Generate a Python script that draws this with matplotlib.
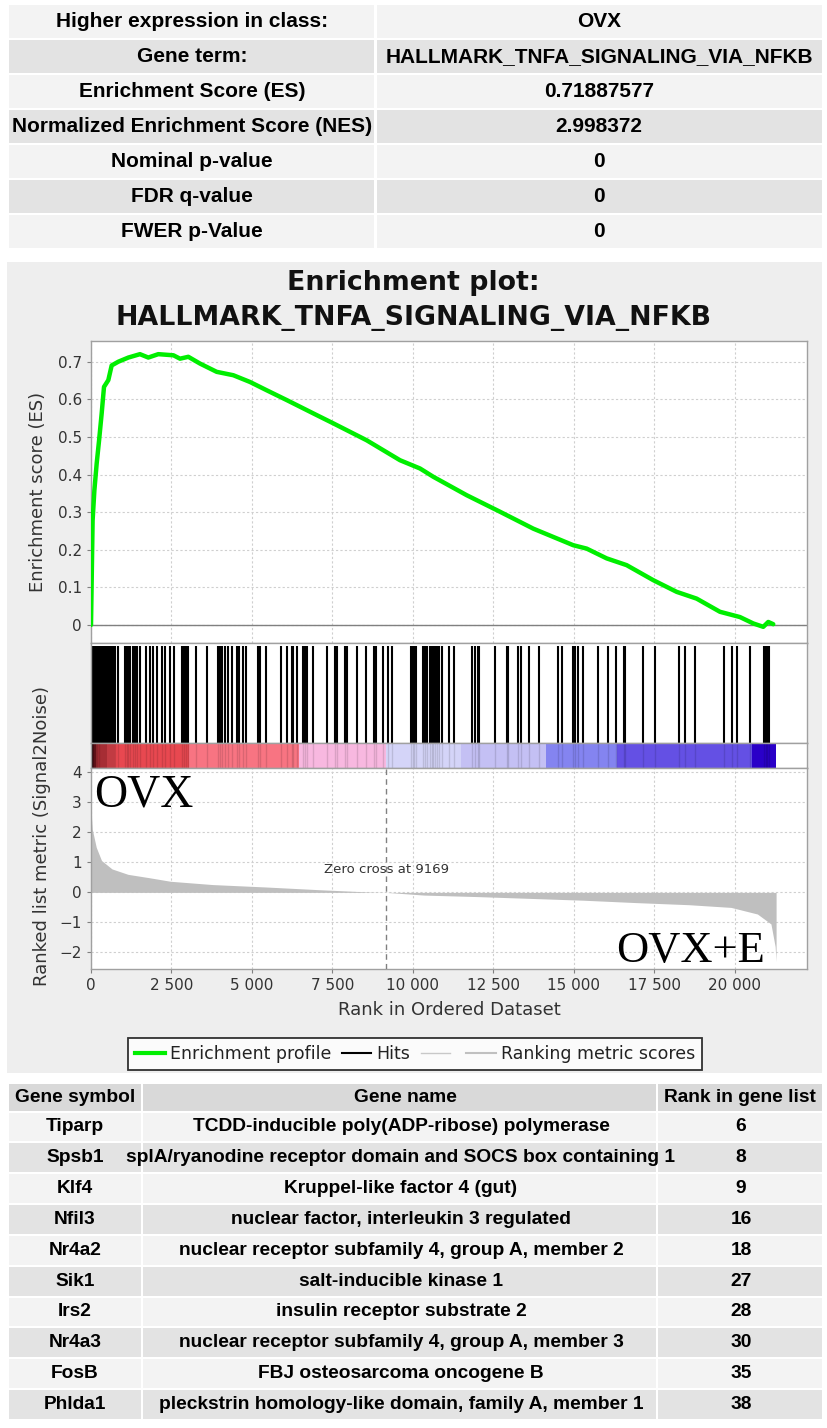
import matplotlib
matplotlib.use('Agg')
import matplotlib.pyplot as plt
from matplotlib.patches import Rectangle
from matplotlib.lines import Line2D
from matplotlib.ticker import FuncFormatter

# ---------------- data ----------------
summary_labels = ["Higher expression in class:", "Gene term:", "Enrichment Score (ES)",
                  "Normalized Enrichment Score (NES)", "Nominal p-value", "FDR q-value",
                  "FWER p-Value"]
summary_values = ["OVX", "HALLMARK_TNFA_SIGNALING_VIA_NFKB", "0.71887577", "2.998372",
                  "0", "0", "0"]

table_header = ["Gene symbol", "Gene name", "Rank in gene list"]
gene_symbols = ["Tiparp", "Spsb1", "Klf4", "Nfil3", "Nr4a2", "Sik1", "Irs2", "Nr4a3",
                "FosB", "Phlda1"]
gene_names = ["TCDD-inducible poly(ADP-ribose) polymerase",
              "splA/ryanodine receptor domain and SOCS box containing 1",
              "Kruppel-like factor 4 (gut)",
              "nuclear factor, interleukin 3 regulated",
              "nuclear receptor subfamily 4, group A, member 2",
              "salt-inducible kinase 1",
              "insulin receptor substrate 2",
              "nuclear receptor subfamily 4, group A, member 3",
              "FBJ osteosarcoma oncogene B",
              "pleckstrin homology-like domain, family A, member 1"]
gene_ranks = [6, 8, 9, 16, 18, 27, 28, 30, 35, 38]

title_line1 = "Enrichment plot:"
title_line2 = "HALLMARK_TNFA_SIGNALING_VIA_NFKB"

hit_ranks = [1, 3, 6, 8, 9, 16, 18, 27, 28, 30, 35, 38, 45, 53, 62, 74, 86, 99, 113, 128,
             144, 161, 179, 198, 218, 240, 263, 287, 312, 338, 365, 393, 422, 452, 483,
             515, 548, 582, 617, 653, 690, 728, 755,
             849, 1060, 1110, 1160, 1210, 1300, 1370, 1440, 1520, 1710, 1830, 1925, 2040,
             2195, 2300, 2455, 2590, 2815, 2880, 2950, 3010, 3260, 3590, 3950, 4000, 4060,
             4160, 4265, 4370, 4525, 4605, 4730, 4815, 5200, 5250, 5435, 5900, 6100, 6235,
             6285, 6390, 6575, 6650, 6720, 6905, 7320, 7580, 7630, 7890, 7940, 8275, 8540,
             8790, 8850, 9080, 9235, 9360, 9940, 9990, 10040, 10085, 10320, 10370, 10425,
             10530, 10580, 10630, 10685, 10735, 10810, 10890, 11120, 11285, 11845, 11925,
             12010, 12050, 12550, 12910, 12960, 13250, 13345, 13615, 13915, 14515, 14620,
             14980, 15030, 15135, 15290, 15755, 16065, 16305, 16555, 16585, 17135, 17515,
             18260, 18450, 18760, 19670, 19920, 20075, 20480, 20915, 20960, 21010, 21060]

es_rank = [0, 50, 105, 176, 250, 331, 404, 538, 642, 850, 1160, 1520, 1780, 2090, 2560,
           2765, 3023, 3385, 3904, 4420, 4940, 5457, 6078, 7010, 7527, 8563, 9598, 10220,
           10632, 11669, 12704, 13739, 14980, 15396, 16017, 16638, 17466, 18191, 18812,
           19536, 20157, 20571, 20882, 21037, 21192]
es_value = [0, 0.278, 0.358, 0.429, 0.49, 0.562, 0.633, 0.651, 0.69, 0.70, 0.711, 0.72,
            0.711, 0.72, 0.717, 0.708, 0.713, 0.695, 0.673, 0.664, 0.646, 0.624, 0.598,
            0.558, 0.536, 0.491, 0.438, 0.416, 0.394, 0.345, 0.301, 0.256, 0.212, 0.203,
            0.177, 0.159, 0.119, 0.088, 0.070, 0.035, 0.021, 0.004, -0.005, 0.008, 0.002]

metric_rank = [0, 10, 40, 163, 327, 653, 1150, 1800, 2465, 3780, 5420, 7066, 8700, 9169,
               10350, 12000, 13640, 15280, 16930, 18570, 19880, 20700, 21120, 21250, 21280]
metric_value = [3.05, 2.6, 2.1, 1.5, 1.06, 0.78, 0.6, 0.49, 0.37, 0.26, 0.18, 0.09, 0.01,
                0.0, -0.09, -0.14, -0.2, -0.26, -0.34, -0.41, -0.5, -0.72, -1.05, -1.8, -2.3]

cbar_edges = [0, 150, 500, 3040, 6460, 9160, 11490, 14130, 16340, 20530, 21280]
cbar_colors = ['#8c1c24', '#c83840', '#e84850', '#f87482', '#f8b8e0', '#d4d4f8',
               '#c4c0f4', '#8484f0', '#6450e4', '#2a00c8']

zero_cross = 9169
x_ticks = [0, 2500, 5000, 7500, 10000, 12500, 15000, 17500, 20000]
es_ticks = [0, 0.1, 0.2, 0.3, 0.4, 0.5, 0.6, 0.7]
metric_ticks = [-2, -1, 0, 1, 2, 3, 4]
legend_labels = ['Enrichment profile', 'Hits', '', 'Ranking metric scores']

# ---------------- figure ----------------
W, H = 827, 1428
fig = plt.figure(figsize=(W / 100, H / 100), dpi=100)
fig.patch.set_facecolor('white')

bg = fig.add_axes([0, 0, 1, 1])
bg.set_xlim(0, W)
bg.set_ylim(H, 0)
bg.axis('off')
bg.set_zorder(-5)

TF = ['Liberation Sans', 'DejaVu Sans']

# top summary table
row_h = 35.0
top0 = 5
for i, (lab, val) in enumerate(zip(summary_labels, summary_values)):
    col = '#f3f3f3' if i % 2 == 0 else '#e3e3e3'
    y0 = top0 + i * row_h
    bg.add_patch(Rectangle((9, y0), 365, row_h - 2, color=col, lw=0))
    bg.add_patch(Rectangle((377, y0), 445, row_h - 2, color=col, lw=0))
    yc = y0 + (row_h - 2) / 2
    bg.text(192, yc, lab, ha='center', va='center', fontsize=15, fontweight='bold',
            family=TF, color='black')
    bg.text(599, yc, val, ha='center', va='center', fontsize=15, fontweight='bold',
            family=TF, color='black')

# grey plot panel
bg.add_patch(Rectangle((7, 262), 815, 811, color='#eeeeee', lw=0))

# bottom table
cols = [(9, 132), (143, 513), (658, 164)]
hdr_top, hdr_h = 1084, 27
FS = 13.8
for (x0, w) in cols:
    bg.add_patch(Rectangle((x0, hdr_top), w, hdr_h, color='#d9d9d9', lw=0))
for xc, t in zip([75, 405, 740], table_header):
    bg.text(xc, hdr_top + hdr_h / 2, t, ha='center', va='center', fontsize=FS,
            fontweight='bold', family=TF)
rh = 30.84
for i, (s, n, r) in enumerate(zip(gene_symbols, gene_names, gene_ranks)):
    y0 = 1112.5 + i * rh
    col = '#f3f3f3' if i % 2 == 0 else '#e3e3e3'
    for x0, w in cols:
        bg.add_patch(Rectangle((x0, y0), w, rh - 2, color=col, lw=0))
    yc = y0 + (rh - 2) / 2
    bg.text(75, yc, s, ha='center', va='center', fontsize=FS, fontweight='bold', family=TF)
    bg.text(401, yc, n, ha='center', va='center', fontsize=FS, fontweight='bold', family=TF)
    bg.text(741, yc, str(r), ha='center', va='center', fontsize=FS, fontweight='bold',
            family=TF)

# title
fig.text(0.5, 1 - 283 / H, title_line1, ha='center', va='center', fontsize=19.3,
         fontweight='bold', family='DejaVu Sans', color='#111111')
fig.text(0.5, 1 - 318 / H, title_line2, ha='center', va='center', fontsize=19.3,
         fontweight='bold', family='DejaVu Sans', color='#111111')

L, R = 91, 807
XMAX = 22240
SP = '#a0a0a0'
GRID = dict(color='#cfcfcf', lw=0.8, ls=(0, (2, 2)))
TXT = '#333333'


def style(ax):
    for s in ax.spines.values():
        s.set_color(SP)
        s.set_linewidth(1.0)
    ax.set_xlim(0, XMAX)


ax_es = fig.add_axes([L / W, 1 - 643 / H, (R - L) / W, (643 - 341) / H])
ax_hit = fig.add_axes([L / W, 1 - 743 / H, (R - L) / W, 100 / H])
ax_cb = fig.add_axes([L / W, 1 - 768 / H, (R - L) / W, 25 / H])
ax_rk = fig.add_axes([L / W, 1 - 969 / H, (R - L) / W, 201 / H])

# ES panel
style(ax_es)
ax_es.set_ylim(-0.048, 0.755)
ax_es.set_xticks(x_ticks)
ax_es.set_xticklabels([])
ax_es.tick_params(axis='x', length=0)
ax_es.set_yticks(es_ticks)
ax_es.set_yticklabels(['0' if v == 0 else f"{v:.1f}" for v in es_ticks])
ax_es.tick_params(axis='y', labelsize=11, colors=TXT, length=3, color='#808080')
ax_es.grid(True, **GRID)
ax_es.axhline(0, color='#808080', lw=1.0, zorder=2)
ax_es.plot(es_rank, es_value, color='#00ee00', lw=3.2, zorder=3, solid_capstyle='round')
ax_es.set_ylabel('Enrichment score (ES)', fontsize=13, color=TXT)
ax_es.yaxis.set_label_coords((47 - L) / (R - L), 0.5)

# hits
style(ax_hit)
ax_hit.set_ylim(0, 1)
ax_hit.set_xticks([])
ax_hit.set_yticks([])
ax_hit.vlines(hit_ranks, 0, 0.97, color='black', lw=1.5)

# colour bar
style(ax_cb)
ax_cb.set_ylim(0, 1)
ax_cb.set_xticks([])
ax_cb.set_yticks([])
for e0, e1, c in zip(cbar_edges[:-1], cbar_edges[1:], cbar_colors):
    ax_cb.axvspan(e0, e1, color=c, lw=0)
ax_cb.vlines(hit_ranks, 0, 1, color='black', lw=1.0, alpha=0.12)

# ranked list
style(ax_rk)
ax_rk.set_ylim(-2.55, 4.14)
ax_rk.set_xticks(x_ticks)
ax_rk.xaxis.set_major_formatter(FuncFormatter(lambda v, p: f"{int(v):,}".replace(',', ' ')))
ax_rk.set_yticks(metric_ticks)
ax_rk.tick_params(labelsize=11, colors=TXT, length=3, color='#808080')
ax_rk.grid(True, **GRID)
ax_rk.fill_between(metric_rank, metric_value, 0, color='#bfbfbf', lw=0, zorder=2)
ax_rk.axvline(zero_cross, color='#808080', lw=1.0, ls=(0, (4, 3)), zorder=3)
ax_rk.text(zero_cross, 0.76, f"Zero cross at {zero_cross}", ha='center', va='center',
           fontsize=9.5, color=TXT)
ax_rk.text(0.004, 0.807, 'OVX', transform=ax_rk.transAxes, ha='left', va='baseline',
           fontsize=33, family='Liberation Serif', color='black')
ax_rk.text(0.941, 0.035, 'OVX+E', transform=ax_rk.transAxes, ha='right', va='baseline',
           fontsize=32, family='Liberation Serif', color='black')
ax_rk.set_xlabel('Rank in Ordered Dataset', fontsize=13, color=TXT)
ax_rk.xaxis.set_label_coords(0.5, (969 - 1001) / 201)
ax_rk.set_ylabel('Ranked list metric (Signal2Noise)', fontsize=13, color=TXT)
ax_rk.yaxis.set_label_coords((51 - L) / (R - L), 0.66)

# legend
handles = [Line2D([], [], color='#00ee00', lw=3),
           Line2D([], [], color='black', lw=1.5),
           Line2D([], [], color='#c8c8c8', lw=1.0),
           Line2D([], [], color='#c0c0c0', lw=1.5)]
leg = fig.legend(handles, legend_labels, loc='center', bbox_to_anchor=(0.502, 1 - 1054 / H),
                 ncol=4, frameon=True, fancybox=False, edgecolor='black', fontsize=12.5,
                 handlelength=1.7, handletextpad=0.3, columnspacing=0.6, borderpad=0.4)
leg.get_frame().set_linewidth(1.3)
for t in leg.get_texts():
    t.set_color('#222222')

fig.savefig('out.png', dpi=100)
